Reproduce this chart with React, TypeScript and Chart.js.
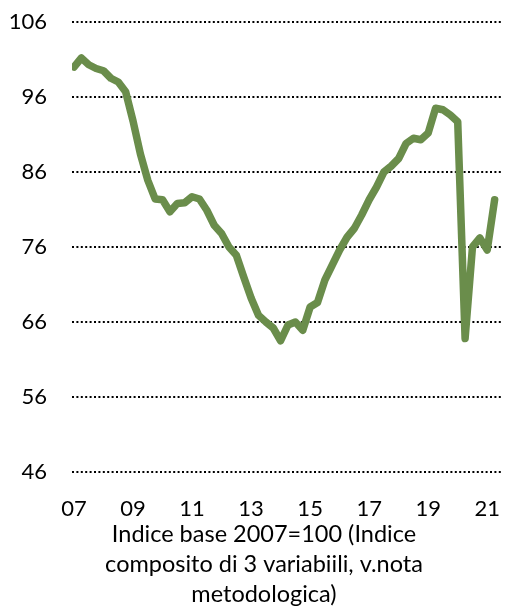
import React, { useEffect, useRef } from "react";
import { Chart, registerables } from "chart.js";

Chart.register(...registerables);

const quarters: string[] = [];
for (let y = 2007; y <= 2021; y++) {
  for (let q = 1; q <= 4; q++) {
    if (y === 2021 && q > 2) break;
    quarters.push(`${y}Q${q}`);
  }
}

const values: number[] = [
  100.0, 101.2, 100.3, 99.8, 99.5, 98.5, 98.0, 96.7,
  92.8, 88.4, 84.9, 82.4, 82.3, 80.7, 81.8, 81.9,
  82.7, 82.4, 80.9, 78.9, 77.8, 76.0, 74.9, 72.0,
  69.2, 66.9, 66.0, 65.2, 63.5, 65.6, 66.0, 64.9,
  68.0, 68.6, 71.6, 73.6, 75.6, 77.3, 78.5, 80.3,
  82.3, 84.0, 86.0, 86.8, 87.8, 89.8, 90.5, 90.3,
  91.2, 94.5, 94.3, 93.6, 92.7, 63.8, 76.0, 77.2,
  75.6, 82.3,
];

const xTickQuarters = ["2007Q1", "2009Q1", "2011Q1", "2013Q1", "2015Q1", "2017Q1", "2019Q1", "2021Q1"];
const xTickLabels = ["07", "09", "11", "13", "15", "17", "19", "21"];
const yTicks = [46, 56, 66, 76, 86, 96, 106];
const titleLines = [
  "Indice base 2007=100 (Indice",
  "composito di 3 variabiili, v.nota",
  "metodologica)",
];

const FONT = "Lato, 'Open Sans', sans-serif";

export default function App() {
  const ref = useRef<HTMLCanvasElement | null>(null);

  useEffect(() => {
    if (!ref.current) return;
    const tickPos = xTickQuarters.map((q) => quarters.indexOf(q));
    const titlePlugin = {
      id: "bottomTitle",
      afterDraw(chart: any) {
        const ctx = chart.ctx;
        ctx.save();
        ctx.fillStyle = "#000";
        ctx.font = `23.5px ${FONT}`;
        ctx.textAlign = "center";
        ctx.textBaseline = "alphabetic";
        titleLines.forEach((t, i) => ctx.fillText(t, 264, 542 + i * 30));
        ctx.restore();
      },
    };
    const chart = new Chart(ref.current, {
      type: "line",
      data: {
        datasets: [
          {
            data: values.map((v, i) => ({ x: i, y: v })),
            borderColor: "#6A8D4B",
            borderWidth: 7.5,
            borderJoinStyle: "round",
            borderCapStyle: "round",
            pointRadius: 0,
            tension: 0,
            fill: false,
          },
        ],
      },
      options: {
        animation: false,
        responsive: false,
        maintainAspectRatio: false,
        layout: { padding: { top: 22, left: 0, right: 4, bottom: 92 } },
        plugins: { legend: { display: false }, tooltip: { enabled: false } },
        scales: {
          x: {
            type: "linear",
            min: -0.27,
            max: 58,
            grid: {
              display: true,
              drawOnChartArea: false,
              drawTicks: true,
              tickLength: 24,
              color: "transparent",
              tickColor: "transparent",
            },
            border: { display: false },
            afterBuildTicks: (s: any) => {
              s.ticks = tickPos.map((v) => ({ value: v }));
            },
            afterFit: (s: any) => {
              s.height = 50;
            },
            ticks: {
              autoSkip: false,
              maxRotation: 0,
              padding: 0,
              color: "#000",
              font: { family: FONT, size: 22 },
              callback: (v: any) => {
                const k = tickPos.indexOf(Number(v));
                return k >= 0 ? xTickLabels[k] : "";
              },
            },
          },
          y: {
            min: 46,
            max: 106,
            afterBuildTicks: (s: any) => {
              s.ticks = yTicks.map((v) => ({ value: v }));
            },
            afterFit: (s: any) => {
              s.width = 72;
            },
            grid: {
              color: "#000",
              lineWidth: 2,
              drawTicks: true,
              tickLength: 25,
              tickColor: "transparent",
            },
            border: { display: false, dash: [2, 2.4] },
            ticks: {
              padding: 0,
              color: "#000",
              font: { family: FONT, size: 22 },
            },
          },
        },
      },
      plugins: [titlePlugin],
    } as any);
    return () => chart.destroy();
  }, []);

  return (
    <div style={{ position: "absolute", left: 0, top: 0, width: 506, height: 614, background: "#fff" }}>
      <canvas ref={ref} width={506} height={614} style={{ display: "block" }} />
    </div>
  );
}
